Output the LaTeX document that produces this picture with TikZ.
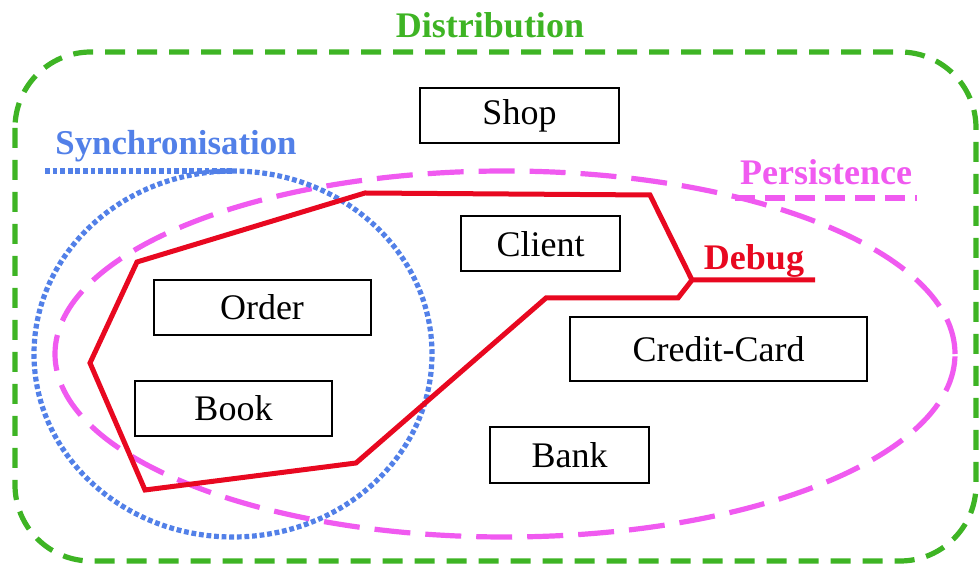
\documentclass[tikz,border=0pt]{standalone}
\usepackage{fontspec}
\setmainfont{Liberation Serif}
\definecolor{distgreen}{RGB}{62,180,36}
\definecolor{syncblue}{RGB}{82,128,232}
\definecolor{perspink}{RGB}{240,90,240}
\definecolor{debugred}{RGB}{232,8,32}

\begin{document}
\begin{tikzpicture}[x=0.5pt, y=-0.5pt,
  every node/.style={font=\fontsize{18}{21}\selectfont},
  comp/.style={draw, rectangle, line width=1pt, minimum height=27.5pt, inner sep=0pt},
  aspect/.style={font=\fontsize{18}{21}\selectfont\bfseries},
  dist/.style={draw=distgreen, line width=2.6pt, dash pattern=on 10pt off 6pt},
  sync/.style={draw=syncblue, line width=2.6pt, dash pattern=on 2.4pt off 1.4pt},
  pers/.style={draw=perspink, line width=2.6pt, dash pattern=on 18pt off 7.5pt},
  dbg/.style={draw=debugred, line width=2.5pt, line join=miter}]
\useasboundingbox (0,0) rectangle (980,565);

% Aspect borders
\draw[dist, rounded corners=38pt] (15,52) rectangle (976,561);
\draw[pers] (505,354) ellipse [x radius=225pt, y radius=91.5pt];
\draw[sync] (233,354) ellipse [x radius=99.5pt, y radius=91.5pt];
\draw[dbg] (815,280) -- (692,280) -- (650,195) -- (365,193) -- (137,262) -- (90,363)
  -- (145,490) -- (356,463) -- (546,298) -- (678,298) -- (692,280);

% Aspect labels
\node[aspect, text=distgreen] (distlabel) at (490,25) {Distribution};
\node[aspect, text=syncblue, font=\fontsize{17.4}{20}\selectfont\bfseries] (synclabel) at (176,146) {Synchronisation};
\node[aspect, text=perspink] (perslabel) at (826,172) {Persistence};
\node[aspect, text=debugred] (dbglabel) at (754,261) {Debug};

% Label underlines
\coordinate (syncleft) at (45,171);
\coordinate (syncright) at (233,171);
\draw[sync] (syncleft) -- (syncright);
\coordinate (persleft) at (735,198);
\coordinate (persright) at (917,198);
\draw[pers, dash pattern=on 10pt off 5pt] (persleft) -- (persright);

% Components
\node[comp, minimum width=99.5pt] (shop) at (519.5,115.5) {Shop};
\node[comp, minimum width=79.5pt] (client) at (540.5,244) {Client};
\node[comp, minimum width=108.5pt] (order) at (262,307.5) {Order};
\node[comp, minimum width=98.5pt] (book) at (233.5,408.5) {Book};
\node[comp, minimum width=148.5pt, minimum height=32pt] (card) at (718.5,349) {Credit-Card};
\node[comp, minimum width=79.5pt, minimum height=28pt] (bank) at (569.5,455) {Bank};
\end{tikzpicture}
\end{document}
